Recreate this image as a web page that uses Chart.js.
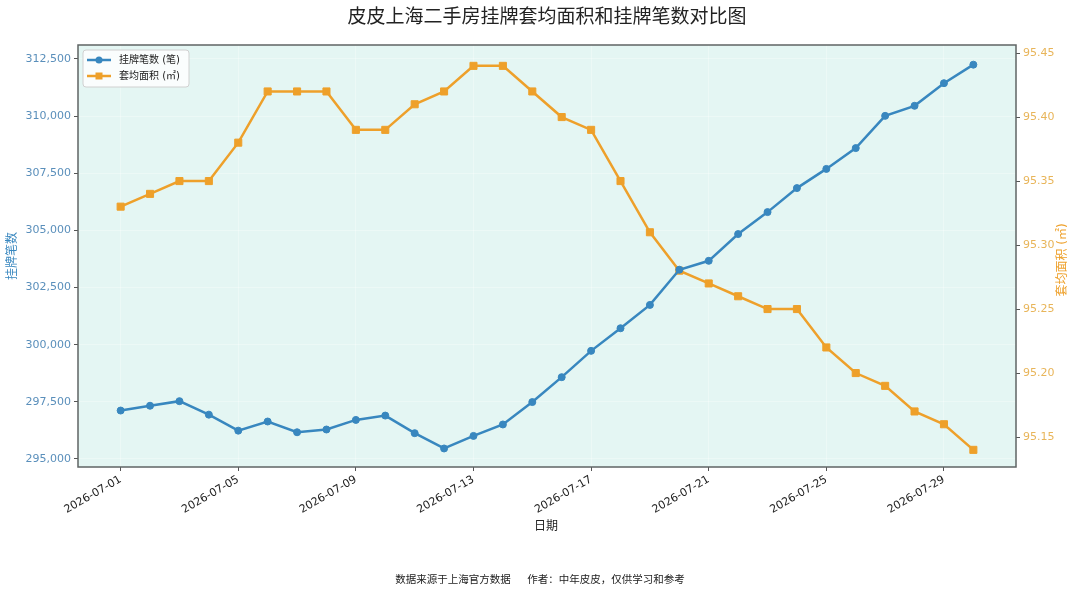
<!DOCTYPE html>
<html>
<head>
<meta charset="utf-8">
<style>
  body { margin: 0; background: #fff; }
  #wrap { width: 1080px; height: 595px; }
</style>
</head>
<body>
<div id="wrap"><canvas id="chart" width="1080" height="595"></canvas></div>
<script src="https://cdn.jsdelivr.net/npm/chart.js"></script>
<script>
const dates = [
  '2026-07-01', '2026-07-02', '2026-07-03', '2026-07-04', '2026-07-05',
  '2026-07-06', '2026-07-07', '2026-07-08', '2026-07-09', '2026-07-10',
  '2026-07-11', '2026-07-12', '2026-07-13', '2026-07-14', '2026-07-15',
  '2026-07-16', '2026-07-17', '2026-07-18', '2026-07-19', '2026-07-20',
  '2026-07-21', '2026-07-22', '2026-07-23', '2026-07-24', '2026-07-25',
  '2026-07-26', '2026-07-27', '2026-07-28', '2026-07-29', '2026-07-30'
];
// 挂牌笔数 (笔)
const listings = [
  297120, 297330, 297530, 296940, 296240, 296640, 296170, 296290, 296710, 296900,
  296130, 295460, 296010, 296510, 297490, 298580, 299730, 300720, 301740, 303280,
  303670, 304840, 305800, 306850, 307690, 308600, 310010, 310450, 311440, 312250
];
// 套均面积 (㎡)
const avgArea = [
  95.33, 95.34, 95.35, 95.35, 95.38, 95.42, 95.42, 95.42, 95.39, 95.39,
  95.41, 95.42, 95.44, 95.44, 95.42, 95.40, 95.39, 95.35, 95.31, 95.28,
  95.27, 95.26, 95.25, 95.25, 95.22, 95.20, 95.19, 95.17, 95.16, 95.14
];
const leftTicks = [295000, 297500, 300000, 302500, 305000, 307500, 310000, 312500];
const rightTicks = [95.15, 95.20, 95.25, 95.30, 95.35, 95.40, 95.45];
const xTickDates = ['2026-07-01', '2026-07-05', '2026-07-09', '2026-07-13',
                    '2026-07-17', '2026-07-21', '2026-07-25', '2026-07-29'];

const FONT = "'DejaVu Sans', 'Noto Sans CJK SC', sans-serif";
const BLUE = '#3887bf';
const ORANGE = '#eea02a';
const GRID = 'rgba(255,255,255,0.3)';

const day0 = Date.parse(dates[0]);
const dayOf = d => (Date.parse(d) - day0) / 86400000;
const lastDay = dayOf(dates[dates.length - 1]);

const decor = {
  id: 'decor',
  beforeDraw(chart) {
    const { ctx, chartArea: a } = chart;
    ctx.save();
    ctx.fillStyle = '#e4f6f3';
    ctx.fillRect(a.left, a.top, a.right - a.left, a.bottom - a.top);
    ctx.restore();
  },
  afterDraw(chart) {
    const { ctx, chartArea: a } = chart;
    ctx.save();
    // frame
    ctx.strokeStyle = '#5f6464';
    ctx.lineWidth = 1.5;
    ctx.strokeRect(a.left, a.top, a.right - a.left, a.bottom - a.top);

    // title
    ctx.fillStyle = '#222';
    ctx.textAlign = 'center';
    ctx.textBaseline = 'middle';
    ctx.font = '19px ' + FONT;
    ctx.fillText('皮皮上海二手房挂牌套均面积和挂牌笔数对比图', 547, 18);

    // x title
    ctx.font = '12px ' + FONT;
    ctx.fillText('日期', 546, 527);

    // footer
    ctx.font = '10.5px ' + FONT;
    ctx.fillText('数据来源于上海官方数据     作者：中年皮皮，仅供学习和参考', 540, 580);

    // y titles
    ctx.save();
    ctx.translate(13, 256);
    ctx.rotate(-Math.PI / 2);
    ctx.fillStyle = BLUE;
    ctx.font = '12px ' + FONT;
    ctx.fillText('挂牌笔数', 0, 0);
    ctx.restore();

    ctx.save();
    ctx.translate(1063, 260);
    ctx.rotate(-Math.PI / 2);
    ctx.fillStyle = ORANGE;
    ctx.font = '12px ' + FONT;
    ctx.fillText('套均面积 (㎡)', 0, 0);
    ctx.restore();

    // legend
    const lx = 83, ly = 50, lw = 106, lh = 37;
    ctx.fillStyle = 'rgba(255,255,255,0.8)';
    ctx.strokeStyle = '#d0d0d0';
    ctx.lineWidth = 1;
    ctx.beginPath();
    ctx.roundRect(lx, ly, lw, lh, 3);
    ctx.fill();
    ctx.stroke();
    const items = [
      { label: '挂牌笔数 (笔)', color: BLUE, shape: 'circle', y: 60 },
      { label: '套均面积 (㎡)', color: ORANGE, shape: 'rect', y: 76 }
    ];
    items.forEach(it => {
      ctx.strokeStyle = it.color;
      ctx.fillStyle = it.color;
      ctx.lineWidth = 2.5;
      ctx.beginPath();
      ctx.moveTo(87, it.y);
      ctx.lineTo(111, it.y);
      ctx.stroke();
      ctx.beginPath();
      if (it.shape === 'circle') ctx.arc(99, it.y, 3.5, 0, Math.PI * 2);
      else ctx.rect(95.5, it.y - 3.5, 7, 7);
      ctx.fill();
      ctx.fillStyle = '#222';
      ctx.textAlign = 'left';
      ctx.font = '10px ' + FONT;
      ctx.fillText(it.label, 119, it.y + 0.5);
    });
    ctx.restore();
  }
};

const ctx = document.getElementById('chart').getContext('2d');
const chart = new Chart(ctx, {
  type: 'line',
  data: {
    datasets: [
      {
        label: '挂牌笔数 (笔)',
        data: dates.map((d, i) => ({ x: dayOf(d), y: listings[i] })),
        yAxisID: 'y',
        borderColor: BLUE,
        backgroundColor: BLUE,
        borderWidth: 2.5,
        pointStyle: 'circle',
        pointRadius: 3.5,
        pointBorderWidth: 1,
        tension: 0,
        fill: false
      },
      {
        label: '套均面积 (㎡)',
        data: dates.map((d, i) => ({ x: dayOf(d), y: avgArea[i] })),
        yAxisID: 'y1',
        borderColor: ORANGE,
        backgroundColor: ORANGE,
        borderWidth: 2.5,
        pointStyle: 'rect',
        pointRadius: 5,
        pointBorderWidth: 1,
        tension: 0,
        fill: false
      }
    ]
  },
  options: {
    responsive: false,
    animation: false,
    devicePixelRatio: 1,
    layout: { padding: { top: 45, left: 0, right: 0, bottom: 0 } },
    plugins: {
      legend: { display: false },
      tooltip: { enabled: false }
    },
    scales: {
      x: {
        type: 'linear',
        min: -1.45,
        max: lastDay + 1.45,
        afterFit: s => { s.height = 128; },
        afterBuildTicks: s => { s.ticks = xTickDates.map(d => ({ value: dayOf(d) })); },
        ticks: {
          minRotation: 30,
          maxRotation: 30,
          autoSkip: false,
          padding: 2,
          color: '#222',
          font: { family: FONT, size: 11 },
          callback: v => xTickDates.find(d => dayOf(d) === v) || ''
        },
        grid: {
          color: GRID,
          tickColor: '#555',
          tickLength: 4
        },
        border: { display: false }
      },
      y: {
        position: 'left',
        min: 294650,
        max: 313110,
        afterFit: s => { s.width = 78; },
        afterBuildTicks: s => { s.ticks = leftTicks.map(v => ({ value: v })); },
        ticks: {
          padding: 3,
          color: '#5a8fbb',
          font: { family: FONT, size: 11 },
          callback: v => v.toLocaleString('en-US')
        },
        grid: {
          color: GRID,
          tickColor: '#555',
          tickLength: 4
        },
        border: { display: false }
      },
      y1: {
        position: 'right',
        min: 95.1266,
        max: 95.4563,
        afterFit: s => { s.width = 64; },
        afterBuildTicks: s => { s.ticks = rightTicks.map(v => ({ value: v })); },
        ticks: {
          padding: 3,
          color: '#e8b55a',
          font: { family: FONT, size: 11 },
          callback: v => v.toFixed(2)
        },
        grid: {
          drawOnChartArea: false,
          tickColor: '#555',
          tickLength: 4
        },
        border: { display: false }
      }
    }
  },
  plugins: [decor]
});
</script>
</body>
</html>
